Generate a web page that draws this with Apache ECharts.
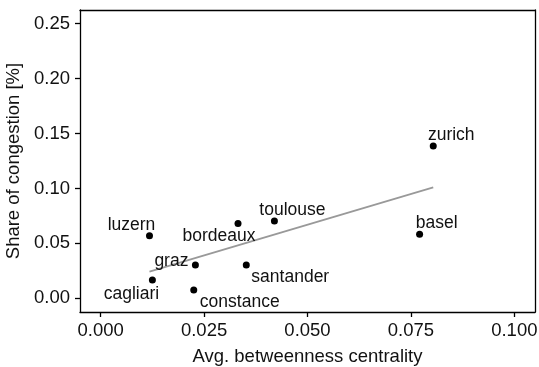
<!DOCTYPE html>
<html>
    <head>
        <meta charset="utf-8">
        <script src="https://cdn.jsdelivr.net/npm/echarts@6/dist/echarts.min.js"></script>
        <style>
            html, body { margin: 0; padding: 0; background: #fff; }
            #main { width: 539px; height: 367px; }
        </style>
    </head>
    <body>
        <div id="main"></div>
        <script>
        // cities and their values
        const cities = ['zurich', 'basel', 'toulouse', 'bordeaux', 'santander', 'graz', 'constance', 'luzern', 'cagliari'];
        const centrality = [0.0804, 0.0771, 0.0420, 0.0332, 0.0352, 0.0229, 0.0225, 0.0118, 0.0125];
        const congestion = [0.1387, 0.0582, 0.0703, 0.0682, 0.0303, 0.0303, 0.0075, 0.0569, 0.0166];

        // fitted trend line
        const trendX = [0.0118, 0.0804];
        const trendY = [0.0242, 0.1009];

        // tick steps
        const xStep = 0.025;
        const yStep = 0.05;

        // where each label sits relative to its point (px)
        const labelOffsets = {
            zurich: [18, -11], basel: [17, -11], toulouse: [18, -11],
            bordeaux: [-19, 13], santander: [44, 12], graz: [-24, -4],
            constance: [46, 12], luzern: [-18, -11], cagliari: [-21, 14]
        };

        const font = 'Liberation Sans, Arial, sans-serif';
        const textColor = '#111';
        const chart = echarts.init(document.getElementById('main'));

        const points = cities.map(function (name, i) {
            return {
                name: name,
                value: [centrality[i], congestion[i]],
                label: { offset: labelOffsets[name] }
            };
        });

        const line = { onZero: false, lineStyle: { color: '#000', width: 1.3 } };
        // plain axes on top and right just to close the frame
        const frameX = { type: 'value', position: 'top', min: -0.005, max: 0.105, axisLine: line,
            axisTick: { show: false }, axisLabel: { show: false }, splitLine: { show: false } };
        const frameY = { type: 'value', position: 'right', min: -0.0125, max: 0.2625, axisLine: line,
            axisTick: { show: false }, axisLabel: { show: false }, splitLine: { show: false } };

        chart.setOption({
            animation: false,
            grid: {
                left: 80, right: 4, top: 10, bottom: 55,
                containLabel: false,
                outerBoundsMode: 'none'
            },
            xAxis: [{
                type: 'value',
                position: 'bottom',
                min: -0.005, max: 0.105,
                minInterval: xStep, maxInterval: xStep,
                name: 'Avg. betweenness centrality',
                nameLocation: 'middle',
                nameGap: 35,
                nameTextStyle: { fontSize: 18.5, color: textColor, fontFamily: font },
                axisLine: line,
                axisTick: { show: true, length: 5, lineStyle: { color: '#000', width: 1.3 } },
                axisLabel: {
                    showMinLabel: false, showMaxLabel: false,
                    margin: 9, fontSize: 18.5, color: textColor, fontFamily: font,
                    formatter: function (v) { return v.toFixed(3); }
                },
                splitLine: { show: false }
            }, frameX],
            yAxis: [{
                type: 'value',
                position: 'left',
                min: -0.0125, max: 0.2625,
                minInterval: yStep, maxInterval: yStep,
                name: 'Share of congestion [%]',
                nameLocation: 'middle',
                nameGap: 55,
                nameTextStyle: { fontSize: 18.5, color: textColor, fontFamily: font },
                axisLine: line,
                axisTick: { show: true, length: 5, lineStyle: { color: '#000', width: 1.3 } },
                axisLabel: {
                    showMinLabel: false, showMaxLabel: false,
                    margin: 10, fontSize: 18.5, color: textColor, fontFamily: font,
                    formatter: function (v) { return v.toFixed(2); }
                },
                splitLine: { show: false }
            }, frameY],
            series: [
                {
                    type: 'line',
                    data: trendX.map(function (x, i) { return [x, trendY[i]]; }),
                    showSymbol: false,
                    lineStyle: { color: '#999', width: 1.8 },
                    z: 1
                },
                {
                    type: 'scatter',
                    symbolSize: 7,
                    itemStyle: { color: '#000', opacity: 1 },
                    label: {
                        show: true,
                        position: 'inside',
                        formatter: '{b}',
                        fontSize: 17.5,
                        color: textColor,
                        fontFamily: font
                    },
                    data: points,
                    z: 2
                }
            ]
        });
        </script>
    </body>
</html>
